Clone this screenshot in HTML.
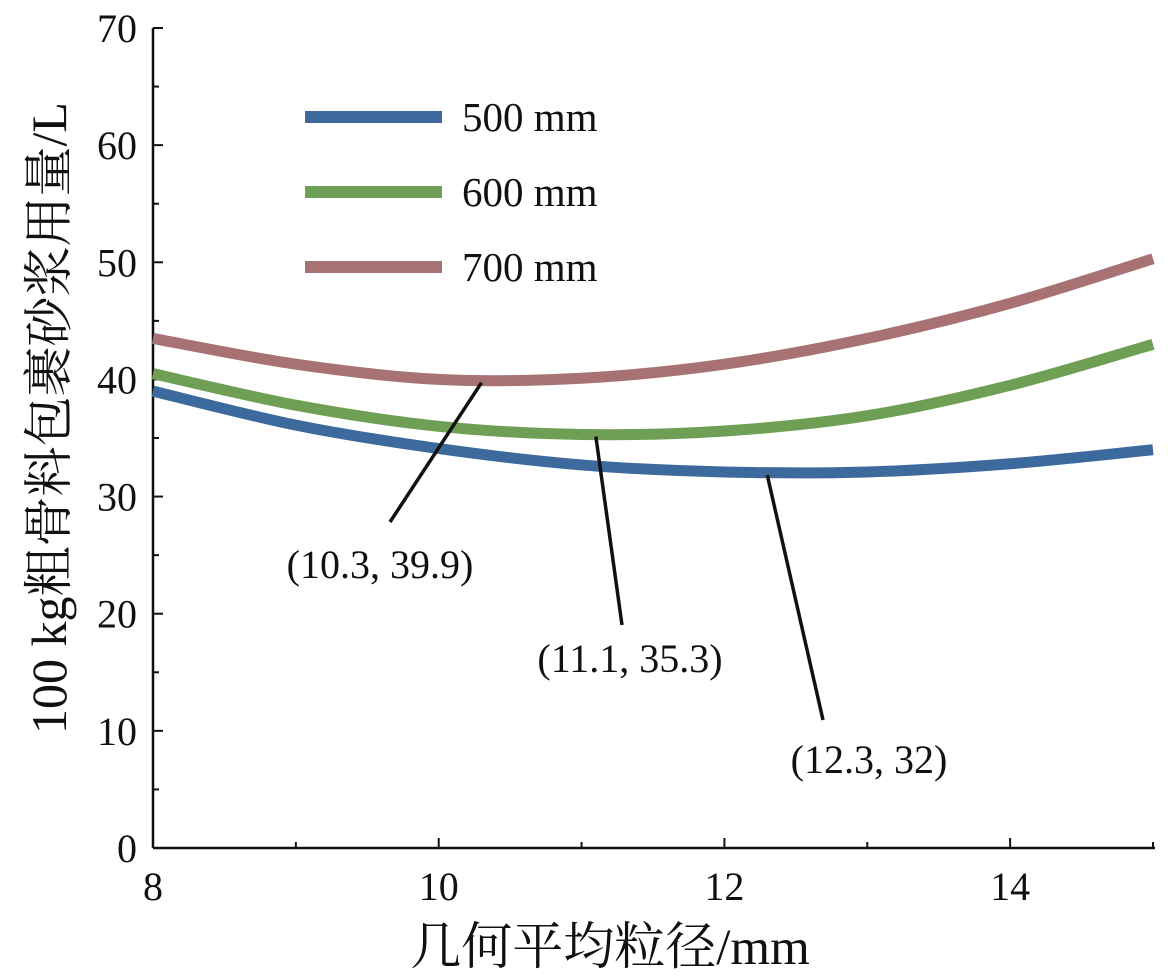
<!DOCTYPE html>
<html><head><meta charset="utf-8">
<style>
html,body{margin:0;padding:0;background:#fff;}
svg{display:block;font-family:"Liberation Serif","Noto Serif CJK SC",serif;}
</style></head>
<body>
<svg id="chart" width="1172" height="976" viewBox="0 0 1172 976" xmlns="http://www.w3.org/2000/svg">
<g id="axes"></g>
<g id="series"></g>
<g id="legend"></g>
<g id="notes"></g>
<text transform="translate(66,418) rotate(-90)" text-anchor="middle" font-size="50" fill="#111">100 kg粗骨料包裹砂浆用量/L</text>
<text x="610" y="964" text-anchor="middle" font-size="51" fill="#111">几何平均粒径/mm</text>
</svg>
<script>
const xs = [8, 9, 10, 11, 12, 13, 14, 15];
const s500 = [39, 36.1, 34.1, 32.7, 32.1, 32.1, 32.8, 34];
const s600 = [40.5, 37.8, 36, 35.3, 35.6, 36.9, 39.5, 43];
const s700 = [43.5, 41.3, 40, 40.1, 41.3, 43.5, 46.5, 50.3];
const seriesNames = ["500 mm", "600 mm", "700 mm"];
const xTicks = [8, 10, 12, 14];
const yTicks = [0, 10, 20, 30, 40, 50, 60, 70];
const notePts = [[10.3, 39.9], [11.1, 35.3], [12.3, 32]];
const noteLabels = ["(10.3, 39.9)", "(11.1, 35.3)", "(12.3, 32)"];

const NS = "http://www.w3.org/2000/svg";
const X0 = 153, X1 = 1153, Y0 = 848, Y1 = 28;
const sx = v => X0 + (v - 8) / 7 * (X1 - X0);
const sy = v => Y0 - v / 70 * (Y0 - Y1);
function mk(tag, attrs, parent) {
  const e = document.createElementNS(NS, tag);
  for (const k in attrs) e.setAttribute(k, attrs[k]);
  parent.appendChild(e); return e;
}
const axes = document.getElementById("axes");
let el = mk("line", {x1: X0, y1: Y1, x2: X0, y2: Y0, stroke: "#111", "stroke-width": 2.5}, axes);


el = mk("line", {x1: X0, y1: Y0, x2: X1 + 2, y2: Y0, stroke: "#111", "stroke-width": 2.5}, axes);


for (let v = 0; v <= 70; v += 5) {
  const len = v % 10 === 0 ? 10 : 6;
  el = mk("line", {x1: X0, y1: sy(v), x2: X0 + len, y2: sy(v), stroke: "#111", "stroke-width": 2}, axes);
  
  
}
for (let v = 8; v <= 15; v += 1) {
  const len = v % 2 === 0 ? 10 : 6;
  el = mk("line", {x1: sx(v), y1: Y0, x2: sx(v), y2: Y0 - len, stroke: "#111", "stroke-width": 2}, axes);
  
  
}
yTicks.forEach(v => {
  const t = mk("text", {x: 137, y: sy(v) + 14, "text-anchor": "end", "font-size": 40, fill: "#111"}, axes);
  t.textContent = v;
  
  
});
xTicks.forEach(v => {
  const t = mk("text", {x: sx(v), y: 900, "text-anchor": "middle", "font-size": 40, fill: "#111"}, axes);
  t.textContent = v;
  
  
});
function smooth(vals) {
  const p = xs.map((x, i) => [sx(x), sy(vals[i])]);
  let d = "M" + p[0][0] + "," + p[0][1];
  for (let i = 0; i < p.length - 1; i++) {
    const p0 = p[Math.max(i - 1, 0)], p1 = p[i], p2 = p[i + 1], p3 = p[Math.min(i + 2, p.length - 1)];
    const c1 = [p1[0] + (p2[0] - p0[0]) / 6, p1[1] + (p2[1] - p0[1]) / 6];
    const c2 = [p2[0] - (p3[0] - p1[0]) / 6, p2[1] - (p3[1] - p1[1]) / 6];
    d += " C" + c1 + " " + c2 + " " + p2;
  }
  return d;
}
const colors = ["#3d6a9c", "#6f9e55", "#a87272"];
const sg = document.getElementById("series");
[s500, s600, s700].forEach((vals, i) => {
  const p = mk("path", {d: smooth(vals), fill: "none", stroke: colors[i], "stroke-width": 11}, sg);
  
  
});
const lg = document.getElementById("legend");
seriesNames.forEach((n, i) => {
  const y = 117 + i * 75;
  const l = mk("line", {x1: 305, y1: y, x2: 442, y2: y, stroke: colors[i], "stroke-width": 12}, lg);
  
  
  const t = mk("text", {x: 462, y: y + 14, "font-size": 41, fill: "#111"}, lg);
  t.textContent = n;
  
  
});
const ng = document.getElementById("notes");
const noteEnds = [[390, 522, 380, 578], [622, 625, 630, 672], [823, 720, 869, 773]];
notePts.forEach((pt, i) => {
  const e = noteEnds[i];
  const l = mk("line", {x1: sx(pt[0]), y1: sy(pt[1]) + 2, x2: e[0], y2: e[1], stroke: "#111", "stroke-width": 3.5}, ng);
  
  
  const t = mk("text", {x: e[2], y: e[3], "text-anchor": "middle", "font-size": 40, fill: "#111"}, ng);
  t.textContent = noteLabels[i];
  
  
});
</script>
</body></html>
